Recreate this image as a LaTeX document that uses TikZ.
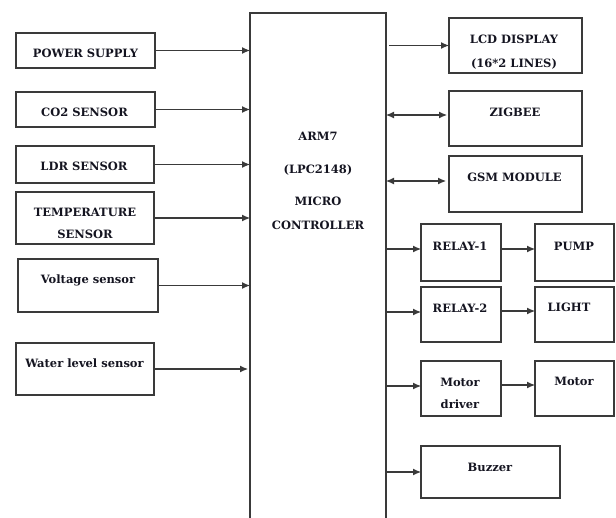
\documentclass[tikz,border=0pt]{standalone}
\usepackage{fontspec}
\setmainfont{DejaVu Serif}
\usetikzlibrary{arrows.meta}
\definecolor{ln}{HTML}{3A3A3A}
\definecolor{tx}{HTML}{141420}
\tikzset{
  box/.style={draw=ln, line width=1.1pt, rectangle, inner sep=0pt, outer sep=0pt},
  txt/.style={inner sep=0pt, text height=8.4pt, text depth=0pt, text=tx, font=\fontsize{11.5}{13}\selectfont\bfseries},
  tip/.tip={Latex[length=8pt,width=7pt]},
  arr/.style={draw=ln, line width=1.1pt, -tip},
  darr/.style={draw=ln, line width=1.1pt, tip-tip}
}
\newcommand\mkbox[5]{\node[box, minimum width={#4-#2}, minimum height={#5-#3}] (#1) at ({(#2+#4)/2},{(#3+#5)/2}) {};}
\begin{document}
\begin{tikzpicture}[x=1pt,y=-1pt]
\useasboundingbox (0,0) rectangle (616,517);
% left boxes
\mkbox{ps}{16}{33}{155}{68}
\mkbox{co2}{16}{92}{155}{127}
\mkbox{ldr}{16}{146}{154}{183}
\mkbox{temp}{16}{192}{154}{244}
\mkbox{volt}{18}{259}{158}{312}
\mkbox{water}{16}{343}{154}{395}
% main
\mkbox{mcu}{250}{13}{386}{560}
% right boxes
\mkbox{lcd}{449}{18}{582}{73}
\mkbox{zig}{449}{91}{582}{146}
\mkbox{gsm}{449}{156}{582}{212}
\mkbox{ra}{421}{224}{501}{281}
\mkbox{pump}{535}{224}{614}{281}
\mkbox{rb}{421}{287}{501}{342}
\mkbox{light}{535}{287}{614}{342}
\mkbox{md}{421}{361}{501}{416}
\mkbox{motor}{535}{361}{614}{416}
\mkbox{buzz}{421}{446}{560}{498}
% texts
\node[txt] (t1) at (85.5,53) {POWER SUPPLY};
\node[txt] (t2) at (84.5,112) {CO2 SENSOR};
\node[txt] (t3) at (84,166) {LDR SENSOR};
\node[txt] (t4) at (85,212) {TEMPERATURE};
\node[txt] (t5) at (85,234) {SENSOR};
\node[txt] (t6) at (88,279) {Voltage sensor};
\node[txt] (t7) at (84.5,363) {Water level sensor};
\node[txt] (t8) at (318,136) {ARM7};
\node[txt] (t9) at (318,169) {(LPC2148)};
\node[txt] (t10) at (318,201) {MICRO};
\node[txt] (t11) at (318,225) {CONTROLLER};
\node[txt] (t12) at (514,39) {LCD DISPLAY};
\node[txt] (t13) at (514,63) {(16*2 LINES)};
\node[txt] (t14) at (515,112) {ZIGBEE};
\node[txt] (t15) at (514.5,177) {GSM MODULE};
\node[txt] (t16) at (460,246) {RELAY-1};
\node[txt] (t17) at (574,246) {PUMP};
\node[txt] (t18) at (460,308) {RELAY-2};
\node[txt] (t19) at (569,307) {LIGHT};
\node[txt] (t20) at (460,382) {Motor};
\node[txt] (t21) at (460,404) {driver};
\node[txt] (t22) at (574,381) {Motor};
\node[txt] (t23) at (490,467) {Buzzer};
% left arrows
\draw[arr] (ps.east) -- (ps.east -| mcu.west);
\draw[arr] (co2.east) -- (co2.east -| mcu.west);
\draw[arr] (ldr.east) -- (ldr.east -| mcu.west);
\draw[arr] (temp.east) -- (temp.east -| mcu.west);
\draw[arr] (volt.east) -- (volt.east -| mcu.west);
\draw[arr] (water.east) -- ([xshift=-2pt]water.east -| mcu.west);
% right arrows
\draw[arr] ([xshift=3pt]mcu.east |- lcd.west) -- (lcd.west);
\draw[darr] ([yshift=3.5pt]mcu.east |- zig.west) -- ([xshift=-2pt,yshift=3.5pt]zig.west);
\draw[darr] ([yshift=3pt]mcu.east |- gsm.west) -- ([xshift=-3pt,yshift=3pt]gsm.west);
\draw[arr] ([yshift=3.5pt]mcu.east |- ra.west) -- ([yshift=3.5pt]ra.west);
\draw[arr] ([yshift=3.5pt]ra.east) -- ([yshift=3.5pt]pump.west);
\draw[arr] ([yshift=2.5pt]mcu.east |- rb.west) -- ([yshift=2.5pt]rb.west);
\draw[arr] ([yshift=3.5pt]rb.east) -- ([yshift=3.5pt]light.west);
\draw[arr] ([yshift=2.5pt]mcu.east |- md.west) -- ([yshift=2.5pt]md.west);
\draw[arr] ([yshift=3.5pt]md.east) -- ([yshift=3.5pt]motor.west);
\draw[arr] (mcu.east |- buzz.west) -- (buzz.west);
\end{tikzpicture}
\end{document}
